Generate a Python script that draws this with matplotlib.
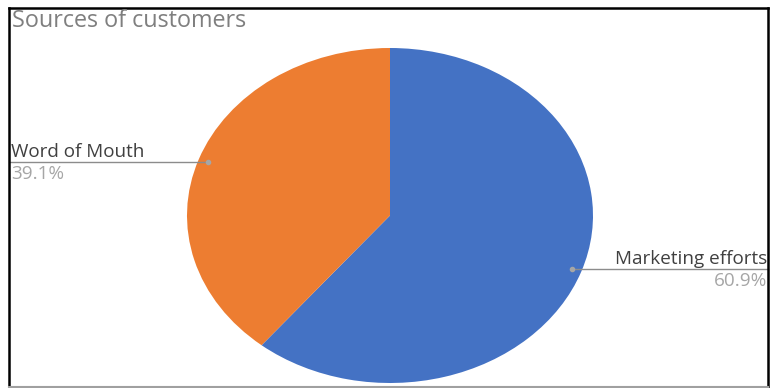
import matplotlib
matplotlib.use("Agg")
import matplotlib.pyplot as plt
import numpy as np
from matplotlib.lines import Line2D

title = "Sources of customers"
categories = ["Marketing efforts", "Word of Mouth"]
values = [60.9, 39.1]
pct_labels = ["60.9%", "39.1%"]
colors = ["#4472C4", "#ED7D31"]

W, H = 770, 388
fig = plt.figure(figsize=(W / 100, H / 100), dpi=100)
plt.rcParams['font.family'] = ['Open Sans', 'DejaVu Sans']

# ellipse bounding box in pixels
L, R, T, B = 187, 593, 48, 383
ax = fig.add_axes([L / W, (H - B) / H, (R - L) / W, (B - T) / H])
wedges, _ = ax.pie(values, colors=colors, startangle=90, counterclock=False,
                   wedgeprops=dict(linewidth=0))
ax.set_aspect('auto')
ax.set_xlim(-1, 1)
ax.set_ylim(-1, 1)
ax.axis('off')

cx_px = (L + R) / 2
rx_px = (R - L) / 2
ry_px = (B - T) / 2

def px_to_x(px):
    return (px - cx_px) / rx_px

line_col = "#8C8C8C"
fs = 13.6
up = 5 / ry_px
down = 17 / ry_px
for i, w in enumerate(wedges):
    mid = np.deg2rad((w.theta1 + w.theta2) / 2)
    dx, dy = 0.95 * np.cos(mid), 0.95 * np.sin(mid)
    if dx < 0:
        xe, xt, ha = px_to_x(10), px_to_x(11), 'left'
    else:
        xe, xt, ha = px_to_x(768), px_to_x(767), 'right'
    ax.plot([xe, dx], [dy, dy], color=line_col, lw=1.0, clip_on=False)
    ax.plot([dx], [dy], 'o', color="#A6A6A6", ms=3, clip_on=False)
    ax.text(xt, dy + up, categories[i], ha=ha, va='baseline',
            fontsize=fs, color="#404040", clip_on=False)
    ax.text(xt, dy - down, pct_labels[i], ha=ha, va='baseline',
            fontsize=fs, color="#A6A6A6", clip_on=False)

fig.text(12 / W, 1 - 27 / H, title, ha='left', va='baseline', fontsize=16.8,
         color="#7F7F7F")

# border
def fl(x0, y0, x1, y1, c, lw):
    fig.add_artist(Line2D([x0 / W, x1 / W], [1 - y0 / H, 1 - y1 / H],
                          color=c, lw=lw, transform=fig.transFigure))

fl(9, 8, 768, 8, "black", 1.8)
fl(9, 8, 9, 387, "black", 1.8)
fl(768, 8, 768, 387, "black", 1.8)
fl(9, 386.5, 768, 386.5, "#A0A0A0", 1.5)

fig.savefig("out.png", dpi=100)
